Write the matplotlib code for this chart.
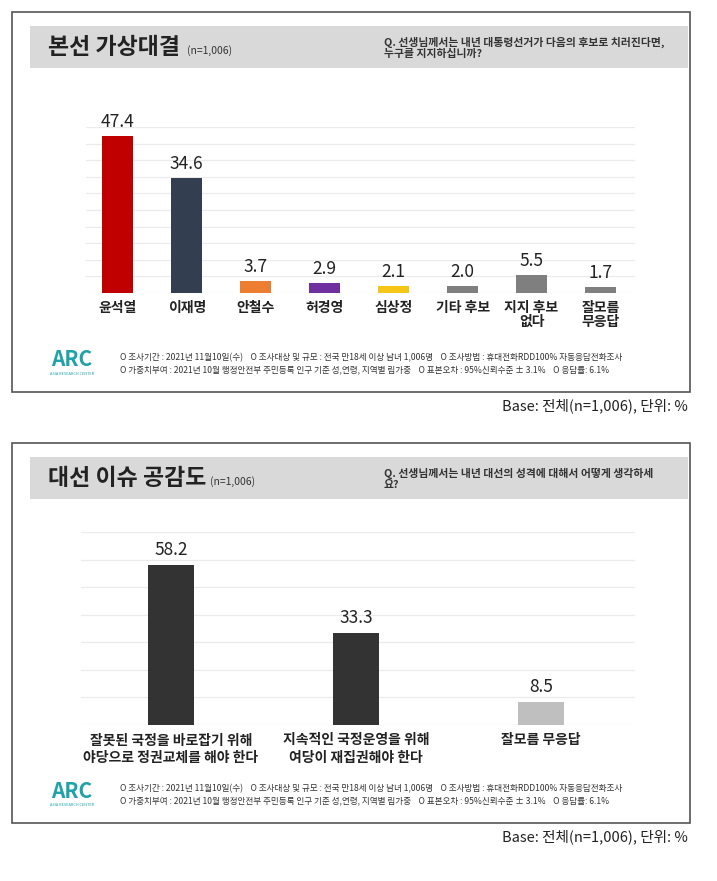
import matplotlib.pyplot as plt
from matplotlib.patches import Rectangle

plt.rcParams['font.family'] = ['Noto Sans CJK KR', 'DejaVu Sans']

W, H = 717, 881

# chart 1
cand_labels = ["윤석열", "이재명", "안철수", "허경영", "심상정", "기타 후보", "지지 후보\n없다", "잘모름\n무응답"]
cand_values = [47.4, 34.6, 3.7, 2.9, 2.1, 2.0, 5.5, 1.7]
cand_colors = ["#C00000", "#333F50", "#ED7D31", "#7030A0", "#F5C518", "#7F7F7F", "#7F7F7F", "#7F7F7F"]

# chart 2
issue_labels = ["잘못된 국정을 바로잡기 위해\n야당으로 정권교체를 해야 한다",
                "지속적인 국정운영을 위해\n여당이 재집권해야 한다",
                "잘모름 무응답"]
issue_values = [58.2, 33.3, 8.5]
issue_colors = ["#333333", "#333333", "#BFBFBF"]

note1 = ("O 조사기간 : 2021년 11월10일(수)    O 조사대상 및 규모 : 전국 만18세 이상 남녀 1,006명    "
         "O 조사방법 : 휴대전화RDD100% 자동응답전화조사")
note2 = ("O 가중치부여 : 2021년 10월 행정안전부 주민등록 인구 기준 성,연령, 지역별 림가중    "
         "O 표본오차 : 95%신뢰수준 ± 3.1%    O 응답률: 6.1%")
base_text = "Base: 전체(n=1,006), 단위: %"

fig = plt.figure(figsize=(W / 100, H / 100), dpi=100)


def fx(px):
    return px / W


def fy(py):
    return 1 - py / H


def rect(x0, y0, x1, y1, **kw):
    fig.patches.append(Rectangle((fx(x0), fy(y1)), fx(x1) - fx(x0), fy(y0) - fy(y1),
                                 transform=fig.transFigure, **kw))


def panel(top, title, title_w, question, labels, values, colors, ymax, step, xlim, bw,
          ax_left, ax_top, base_y, label_ls):
    # frame + header band
    rect(12, top, 690, top + 380, facecolor="white", edgecolor="#555555", lw=1.2, zorder=-3)
    rect(30, top + 14, 688, top + 56, facecolor="#D9D9D9", edgecolor="none", zorder=-2)
    fig.text(fx(48), fy(top + 36), title, fontsize=16.5, fontweight="bold", color="#222222", va="center")
    fig.text(fx(50 + title_w), fy(top + 39), "(n=1,006)", fontsize=7.5, color="#333333", va="center")
    fig.text(fx(384), fy(top + 36), question, fontsize=7.8, fontweight="bold", color="#333333",
             va="center", linespacing=1.2)

    ax = fig.add_axes([fx(ax_left), fy(base_y), fx(635) - fx(ax_left), fy(ax_top) - fy(base_y)])
    ax.set_facecolor("none")
    x = list(range(len(values)))
    ax.bar(x, values, width=bw, color=colors, zorder=3)
    for xi, v in zip(x, values):
        ax.text(xi, v + ymax * 0.03, f"{v:.1f}", ha="center", va="bottom", fontsize=12.5,
                color="#222222", clip_on=False)
    ax.set_xticks(x)
    ax.set_xticklabels(labels, fontsize=10, fontweight="bold", color="#222222", linespacing=label_ls)
    ax.tick_params(length=0, pad=6)
    ax.set_yticks(range(0, ymax + 1, step))
    ax.set_yticklabels([])
    ax.tick_params(axis="y", length=0)
    ax.grid(True, axis="y", color="#EBEBEB", lw=0.9)
    ax.set_axisbelow(True)
    ax.set_ylim(0, ymax)
    ax.set_xlim(*xlim)
    for s in ax.spines.values():
        s.set_visible(False)

    # footer: logo + notes
    fy0 = top + 352
    fig.text(fx(72), fy(fy0 - 4), "ARC", fontsize=15, fontweight="bold", fontstyle="italic",
             color="#1FA3A8", ha="center", va="center")
    fig.text(fx(72), fy(fy0 + 10), "ASIA RESEARCH CENTER", fontsize=2.8, color="#1FA3A8",
             ha="center", va="center")
    fig.text(fx(120), fy(fy0 - 6), note1, fontsize=6.2, color="#333333", va="center")
    fig.text(fx(120), fy(fy0 + 6), note2, fontsize=6.2, color="#333333", va="center")

    fig.text(fx(688), fy(top + 394), base_text, fontsize=10.5, color="#222222", ha="right", va="center")
    return ax


panel(12, "본선 가상대결", 137,
      "Q. 선생님께서는 내년 대통령선거가 다음의 후보로 치러진다면,\n누구를 지지하십니까?",
      cand_labels, cand_values, cand_colors, 50, 5, (-0.46, 7.5), 0.45, 86, 127, 293, 1.0)

panel(443, "대선 이슈 공감도", 160,
      "Q. 선생님께서는 내년 대선의 성격에 대해서 어떻게 생각하세\n요?",
      issue_labels, issue_values, issue_colors, 70, 10, (-0.486, 2.51), 0.25, 81, 532, 725, 1.3)

fig.savefig("out.png", dpi=100)
